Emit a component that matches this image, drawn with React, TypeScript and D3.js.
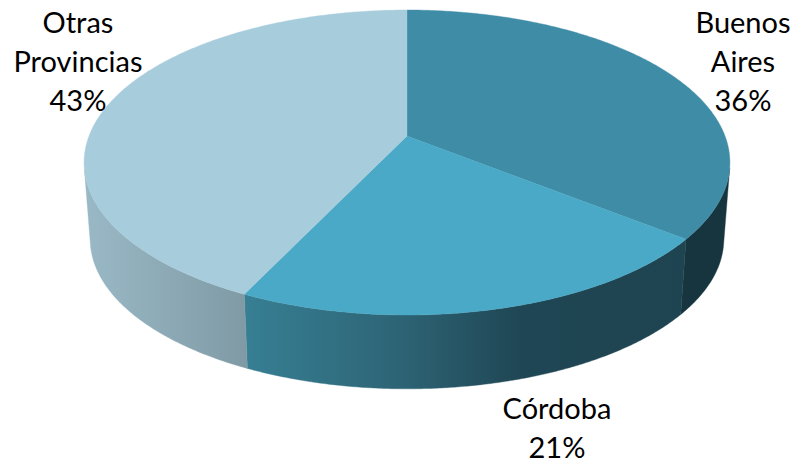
import * as d3 from "d3";
import React from "react";

const categories = ["Buenos Aires", "Córdoba", "Otras Provincias"];
const values = [35.7, 21.4, 42.9];
const labelLines = [["Buenos", "Aires", "36%"], ["Córdoba", "21%"], ["Otras", "Provincias", "43%"]];

const topColors = ["#3e8ca6", "#4aa9c6", "#a7ccdc"];
const sideStops = [
  [[0, "#16353f"], [1, "#16353f"]],
  [[0, "#377f94"], [0.35, "#2d6475"], [0.63, "#1f4654"], [1, "#1f4451"]],
  [[0, "#99b8c5"], [1, "#7f9aa5"]],
];
const sideRange = [[680, 730], [245, 685], [88, 248]];
// where each text block sits: centre x, first baseline
const labelPos = [[743, 33], [557, 419], [78, 33]];

const width = 794;
const height = 461;
const lineGap = 39;

// perspective of the disc, fitted on the rim of the picture
const cx = 407;
const apexY = 136;
const persp = 0.1738;
const spanY = 124.26;
const spanX = 318;
const vanishY = 4200;
const shrink = 0.981;

const project = (a: number) => {
  const u = Math.sin(a);
  const v = Math.cos(a);
  const w = 1 + persp * v;
  return [cx + (spanX * u) / w, (apexY - spanY * v) / w];
};
const drop = (p: number[]) => [cx + shrink * (p[0] - cx), vanishY - shrink * (vanishY - p[1])];

const pie = d3.pie<number>().sort(null);
const arcs = pie(values);
const line = d3.line();

const sample = (d: d3.PieArcDatum<number>) =>
  d3.range(0, 201).map((i) => project(d.startAngle + ((d.endAngle - d.startAngle) * i) / 200));

// only the part of the rim whose wall faces the viewer
const frontFacing = (rim: number[][]) =>
  rim.filter((p, i) => {
    const q = rim[Math.min(i + 1, rim.length - 1)];
    const r = rim[Math.max(i - 1, 0)];
    const low = drop(p);
    const cross = (q[0] - r[0]) * (low[1] - p[1]) - (q[1] - r[1]) * (low[0] - p[0]);
    return cross < 0;
  });

export default function App() {
  const apex = [cx, apexY];
  return (
    <svg
      width={width}
      height={height}
      style={{ position: "absolute", left: 0, top: 0, background: "#fff" }}
      fontFamily="Lato, 'Open Sans', sans-serif"
    >
      <defs>
        {sideStops.map((stops, i) => (
          <linearGradient
            key={i}
            id={`side${i}`}
            gradientUnits="userSpaceOnUse"
            x1={sideRange[i][0]}
            x2={sideRange[i][1]}
            y1={0}
            y2={0}
          >
            {stops.map((s, j) => (
              <stop key={j} offset={s[0] as number} stopColor={s[1] as string} />
            ))}
          </linearGradient>
        ))}
      </defs>
      <g className="sides">
        {arcs.map((d, i) => {
          const rim = frontFacing(sample(d));
          const lower = rim.map(drop).reverse();
          return (
            <path
              key={categories[i]}
              d={line([...rim, ...lower] as [number, number][]) + "Z"}
              fill={`url(#side${i})`}
              stroke={`url(#side${i})`}
              strokeWidth={0.4}
            />
          );
        })}
      </g>
      <g className="top">
        {arcs.map((d, i) => (
          <path
            key={categories[i]}
            d={line([apex, ...sample(d)] as [number, number][]) + "Z"}
            fill={topColors[i]}
            stroke={topColors[i]}
            strokeWidth={0.4}
          />
        ))}
      </g>
      <g className="labels" fontSize={29} textAnchor="middle" fill="#000">
        {labelLines.map((lines, i) => (
          <text key={categories[i]} x={labelPos[i][0]} y={labelPos[i][1]}>
            {lines.map((t, j) => (
              <tspan key={t} x={labelPos[i][0]} y={labelPos[i][1] + j * lineGap}>
                {t}
              </tspan>
            ))}
          </text>
        ))}
      </g>
    </svg>
  );
}
